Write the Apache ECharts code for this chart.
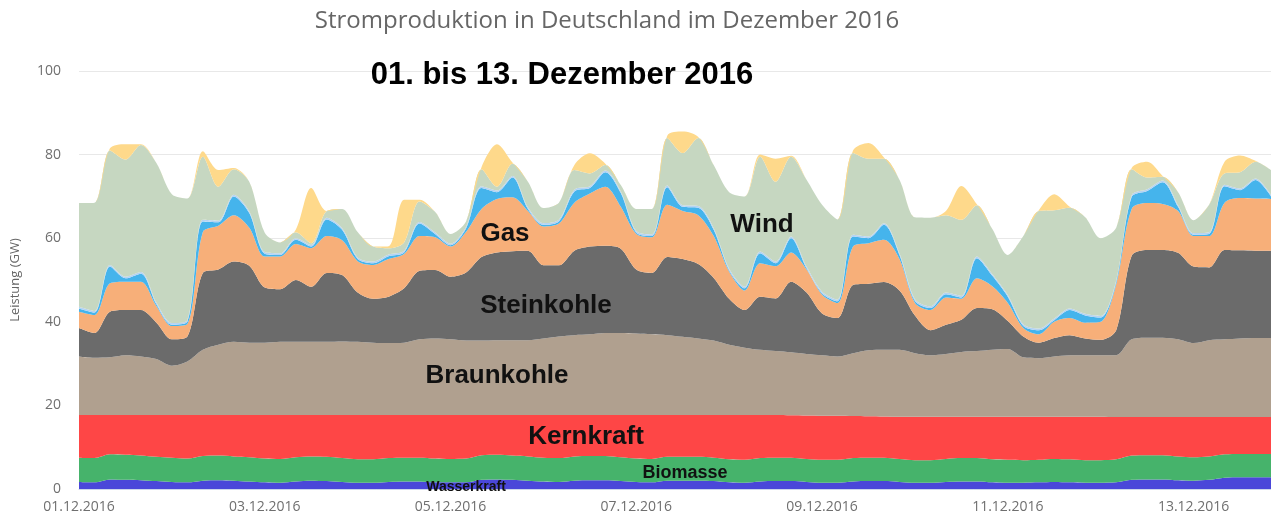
<!DOCTYPE html>
<html>
<head>
<meta charset="utf-8">
<script src="https://cdn.jsdelivr.net/npm/echarts@6/dist/echarts.min.js"></script>
<style>
html,body{margin:0;padding:0;background:#fff;}
#chart{width:1271px;height:515px;}
</style>
</head>
<body>
<div id="chart"></div>
<script>
// Hours since 01.12.2016 00:00 (4-hour steps)
var hours = [0,4,8,12,16,20,24,28,32,36,40,44,
  48,52,56,60,64,68,72,76,80,84,88,92,
  96,100,104,108,112,116,120,124,128,132,136,140,
  144,148,152,156,160,164,168,172,176,180,184,188,
  192,196,200,204,208,212,216,220,224,228,232,236,
  240,244,248,252,256,260,264,268,272,276,280,284,
  288,292,296,300,304,308];

var dateLabels = ['01.12.2016','03.12.2016','05.12.2016','07.12.2016','09.12.2016','11.12.2016','13.12.2016'];

var seriesNames = ['Wasserkraft','Biomasse','Kernkraft','Braunkohle','Steinkohle','Gas','Pumpspeicher','Sonstige','Wind','Solar'];

var wasserkraft = [1.7,1.6,2.3,2.2,2.1,1.9,1.7,1.6,2.0,2.1,2.0,1.8,
  1.6,1.5,1.8,2.0,1.9,1.7,1.5,1.5,1.7,1.8,1.8,1.6,
  1.6,1.6,2.2,2.3,2.2,2.0,1.8,1.7,2.0,2.1,2.1,1.9,
  1.7,1.6,2.0,2.0,2.0,1.9,1.6,1.5,1.8,1.9,1.9,1.7,
  1.5,1.5,1.8,1.9,1.9,1.7,1.5,1.5,1.7,1.8,1.8,1.6,
  1.5,1.5,1.6,1.7,1.6,1.5,1.5,1.6,2.2,2.3,2.3,2.1,
  2.0,2.2,2.7,2.8,2.8,2.8];

var biomasse = [5.8,5.8,6.0,6.0,5.9,5.8,5.8,5.7,5.9,5.9,5.8,5.8,
  5.7,5.7,5.8,5.8,5.8,5.7,5.6,5.6,5.7,5.7,5.7,5.7,
  5.6,5.7,5.9,5.9,5.8,5.8,5.7,5.7,5.8,5.8,5.8,5.7,
  5.6,5.6,5.7,5.7,5.7,5.6,5.5,5.5,5.6,5.6,5.6,5.5,
  5.5,5.5,5.6,5.6,5.6,5.5,5.4,5.4,5.5,5.6,5.6,5.5,
  5.5,5.4,5.4,5.5,5.5,5.4,5.4,5.5,5.8,5.8,5.8,5.7,
  5.6,5.6,5.6,5.6,5.6,5.6];

var kernkraft = [10.2,10.3,9.4,9.5,9.7,10.0,10.2,10.4,9.8,9.7,9.9,10.1,
  10.4,10.5,10.1,9.9,10.0,10.3,10.6,10.6,10.3,10.2,10.2,10.4,
  10.5,10.4,9.6,9.5,9.7,9.9,10.2,10.3,9.9,9.8,9.8,10.1,
  10.4,10.5,10.0,10.0,10.0,10.2,10.6,10.7,10.3,10.2,10.15,10.4,
  10.55,10.5,10.05,9.9,9.85,10.1,10.4,10.4,10.1,9.9,9.9,10.2,
  10.3,10.4,10.3,10.1,10.2,10.4,10.4,10.1,9.2,9.1,9.1,9.4,
  9.6,9.4,8.9,8.8,8.8,8.8];

var braunkohle = [14.0,13.7,13.8,14.3,14.0,13.4,11.8,12.8,15.6,16.8,17.5,17.3,
  17.3,17.5,17.5,17.5,17.5,17.6,17.5,17.3,17.2,17.3,18.1,18.3,
  18.1,17.8,17.8,17.9,17.9,17.9,18.3,18.8,19.1,19.3,19.6,19.6,
  19.5,19.3,19.1,18.7,18.3,17.8,16.8,16.1,15.6,15.3,15.05,14.7,
  14.45,14.2,15.05,15.8,15.95,16.0,15.2,14.7,15.0,15.5,15.7,16.0,
  16.2,14.2,14.0,14.4,14.7,14.7,14.7,14.8,18.6,19.0,19.0,18.6,
  17.7,18.4,18.6,18.8,18.9,18.9];

var steinkohle = [6.8,5.9,10.9,10.8,11.1,8.7,6.3,6.0,18.4,18.0,19.2,18.4,
  13.2,12.6,14.8,13.2,16.5,15.9,11.8,10.5,11.1,13.0,16.4,16.4,
  15.0,16.3,20.0,21.0,21.3,21.4,17.5,17.0,20.2,21.0,20.9,20.2,
  15.3,14.7,18.7,18.6,17.8,15.0,11.0,9.0,12.7,12.6,16.9,14.7,
  10.0,9.2,16.3,15.9,16.2,14.2,9.0,6.0,7.0,7.7,10.3,9.7,
  6.7,5.0,3.7,4.4,4.8,4.0,3.7,6.0,20.0,21.0,21.0,20.7,
  18.3,17.4,21.4,21.1,20.9,20.9];

var gas = [3.9,4.3,6.8,6.8,6.8,4.0,3.2,3.0,9.8,10.5,11.1,9.1,
  7.4,7.8,8.6,9.2,8.8,8.3,7.5,8.1,9.0,8.2,8.3,7.8,
  7.2,9.7,11.5,12.8,12.9,9.5,9.3,10.0,11.5,12.7,14.1,10.0,
  8.5,8.5,12.5,11.5,11.7,10.0,6.5,4.7,8.0,7.7,7.0,5.5,
  4.5,3.6,9.2,9.7,10.1,7.5,3.0,4.8,6.5,5.0,7.1,5.5,
  4.3,2.0,2.0,3.9,4.1,3.8,4.3,11.0,11.2,11.2,11.0,10.0,
  7.3,7.5,11.3,12.5,12.5,12.4];

var pumpspeicher = [0.8,0.6,4.0,0.8,1.9,0.4,0.3,0.5,2.5,0.8,4.5,3.5,
  0.7,0.4,1.0,0.4,4.0,2.5,0.5,0.4,0.7,0.4,3.0,0.8,
  0.3,0.8,5.0,1.6,4.7,0.5,0.4,0.5,2.7,1.3,3.5,3.3,
  0.3,0.3,4.2,1.0,1.8,1.5,0.3,0.5,2.4,0.7,3.4,0.3,
  0.3,0.4,2.4,1.2,3.6,1.0,0.5,0.5,0.8,0.3,4.8,2.5,
  1.5,0.5,1.0,0.4,1.9,1.7,1.0,0.5,2.9,2.9,5.2,1.0,
  0.3,0.5,3.9,1.9,4.4,0.6];

var sonstige = [0.4,0.4,0.4,0.4,0.4,0.4,0.4,0.4,0.4,0.4,0.4,0.4,
  0.4,0.4,0.4,0.4,0.4,0.4,0.4,0.4,0.4,0.4,0.4,0.4,
  0.4,0.4,0.4,0.4,0.4,0.4,0.4,0.4,0.4,0.4,0.4,0.4,
  0.4,0.4,0.4,0.4,0.4,0.4,0.4,0.4,0.4,0.4,0.4,0.4,
  0.4,0.4,0.4,0.4,0.4,0.4,0.4,0.4,0.4,0.4,0.4,0.4,
  0.4,0.4,0.4,0.4,0.4,0.4,0.4,0.4,0.4,0.4,0.4,0.4,
  0.4,0.4,0.4,0.4,0.4,0.4];

var wind = [24.8,25.9,27.4,28.0,30.4,33.4,30.8,29.1,15.1,8.1,6.1,7.1,
  4.6,2.6,1.4,0.4,1.6,4.6,6.1,3.6,1.5,2.0,4.9,4.9,
  2.3,1.3,4.1,0.9,2.9,6.1,3.6,4.1,4.7,3.1,1.3,1.5,
  5.3,6.1,11.4,12.5,16.3,15.1,18.3,21.6,22.7,19.1,19.1,20.8,
  20.8,19.2,19.6,18.6,15.4,17.6,19.6,21.2,18.5,18.2,12.3,10.8,
  9.6,21.1,28.1,25.9,24.1,23.1,18.6,12.6,6.2,2.8,0.9,3.1,
  3.1,6.6,2.7,3.9,4.0,5.9];

var solar = [0,0,0.5,3.7,0.2,0,0,0,1.3,4.0,0.3,0,
  0,0,0.6,13.2,0,0,0,0,0.5,10.2,0.4,0,
  0,0,0.5,10.2,0.3,0,0,0,1.2,4.8,0.3,0,
  0,0,0.5,5.1,0.2,0,0,0,0.5,5.5,0.2,0,
  0,0,0.6,3.8,0.3,0,0,0,1.0,8.1,0.2,0,
  0,0,0.2,3.8,0.2,0,0,0,0.3,3.8,0.2,0,
  0,0,2.8,4.0,0.2,0];

var seriesValues = [wasserkraft,biomasse,kernkraft,braunkohle,steinkohle,gas,pumpspeicher,sonstige,wind,solar];
var colors = ['#4a47d9','#46b36b','#fe4646','#b0a08f','#6b6b6b','#f7af79','#45b4ec','#b5d3f3','#c6d7c1','#fed98b'];

var series = seriesNames.map(function(name, k){
  return {
    name: name,
    type: 'line',
    stack: 'total',
    smooth: 0.3,
    symbol: 'none',
    lineStyle: {width: 0},
    areaStyle: {color: colors[k], opacity: 1},
    itemStyle: {color: colors[k]},
    data: seriesValues[k]
  };
});

var labelFont = 'bold 26px "Liberation Sans", Arial, sans-serif';
function txt(x, y, s, font, fill){
  return {type:'text', x:x, y:y, z:100, silent:true,
    style:{text:s, font:font, fill:fill||'#111', textAlign:'center', textVerticalAlign:'middle', align:'center', verticalAlign:'middle'}};
}

// px per hour ~3.885; last category (308h) sits slightly past the right edge
var chart = echarts.init(document.getElementById('chart'), null, {renderer:'canvas'});
chart.setOption({
  animation: false,
  backgroundColor: '#ffffff',
  grid: {left: 79, right: -4.6, top: 71, bottom: 26, containLabel: false},
  xAxis: {
    type: 'category', boundaryGap: false,
    data: hours,
    axisLine: {show: true, lineStyle: {color: '#ccd6eb'}},
    axisTick: {show: false},
    splitLine: {show: false},
    axisLabel: {
      interval: function(idx){ return idx % 12 === 0; },
      hideOverlap: false,
      margin: 11, color: '#6f6f6f', fontSize: 14, fontFamily: '"Open Sans", sans-serif',
      formatter: function(v, idx){ return (idx % 12 === 0) ? (dateLabels[idx/12] || '') : ''; }
    }
  },
  yAxis: {
    type: 'value', min: 0, max: 100, interval: 20,
    name: 'Leistung (GW)', nameLocation: 'middle', nameGap: 57, nameRotate: 90,
    nameTextStyle: {color: '#666', fontSize: 13, fontFamily: '"Open Sans", sans-serif'},
    axisLine: {show: false}, axisTick: {show: false},
    splitLine: {lineStyle: {color: '#e8e8e8'}},
    axisLabel: {margin: 18, color: '#6f6f6f', fontSize: 14, fontFamily: '"Open Sans", sans-serif'}
  },
  series: series,
  graphic: [
    txt(607, 21, 'Stromproduktion in Deutschland im Dezember 2016', '24px "Open Sans", sans-serif', '#666'),
    txt(562, 75, '01. bis 13. Dezember 2016', 'bold 31px "Liberation Sans", Arial, sans-serif', '#000'),
    txt(505, 234, 'Gas', labelFont),
    txt(762, 225, 'Wind', labelFont),
    txt(546, 306, 'Steinkohle', labelFont),
    txt(497, 376, 'Braunkohle', labelFont),
    txt(586, 437, 'Kernkraft', labelFont),
    txt(685, 473, 'Biomasse', 'bold 18px "Liberation Sans", Arial, sans-serif'),
    txt(466, 487, 'Wasserkraft', 'bold 14px "Liberation Sans", Arial, sans-serif')
  ]
});
</script>
</body>
</html>
